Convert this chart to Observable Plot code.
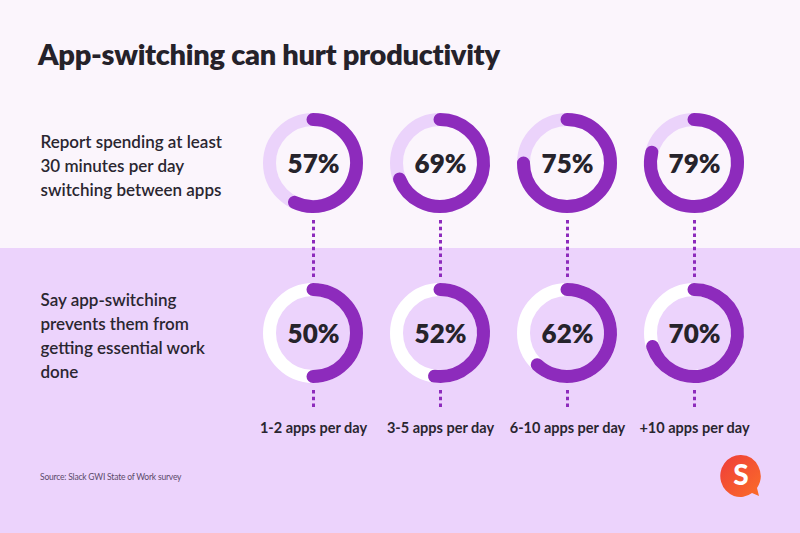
<!DOCTYPE html>
<html><head><meta charset="utf-8">
<script src="https://cdn.jsdelivr.net/npm/d3@7"></script>
<script src="https://cdn.jsdelivr.net/npm/@observablehq/plot@0.6"></script>
<style>
html,body{margin:0;padding:0;}
body{width:800px;height:533px;overflow:hidden;font-family:Lato,"Noto Sans",sans-serif;}
#wrap{position:relative;width:800px;height:533px;background:linear-gradient(to bottom,#fbf5fc 0,#fbf5fc 248px,#ecd3fc 248px,#ecd3fc 100%);}
#chart{position:absolute;left:0;top:0}
#title{position:absolute;left:38px;top:39px;margin:0;font-size:29px;line-height:29px;font-weight:800;color:#25222a;white-space:nowrap;letter-spacing:-0.3px}
#source{position:absolute;left:40px;top:473px;font-size:8.5px;line-height:9px;color:#5b4a6b;white-space:nowrap;letter-spacing:-0.2px}
#logo{position:absolute;left:719px;top:453px}
</style></head>
<body><div id="wrap">
<div id="chart"></div>
<h1 id="title">App-switching can hurt productivity</h1>
<div id="source">Source: Slack GWI State of Work survey</div>
<svg id="logo" width="46" height="48" viewBox="0 0 46 48">
  <defs><linearGradient id="lg" x1="0" y1="0" x2="1" y2="1">
    <stop offset="0" stop-color="#ee3d3a"/><stop offset="1" stop-color="#fb6d28"/></linearGradient></defs>
  <path d="M22,2 A20,21 0 1 0 33,40 L40,43 L38,35 A20,21 0 0 0 22,2 Z" fill="url(#lg)"/>
  <text x="22" y="32" text-anchor="middle" font-family="Lato" font-weight="900" font-size="28" fill="#fff">S</text>
</svg>
</div>
<script>
const categories = ["1-2 apps per day", "3-5 apps per day", "6-10 apps per day", "+10 apps per day"];
const rows = ["top", "bottom"];
const rowLabels = [
  "Report spending at least\n30 minutes per day\nswitching between apps",
  "Say app-switching\nprevents them from\ngetting essential work\ndone"
];
const reportSwitching30min = [57, 69, 75, 79];
const preventsEssentialWork = [50, 52, 62, 70];

const seriesByRow = {top: reportSwitching30min, bottom: preventsEssentialWork};
const trackByRow = {top: "#ebd3fb", bottom: "#ffffff"};
const donuts = rows.flatMap(row => categories.map((cat, j) => ({cat, row, value: seriesByRow[row][j]})));
const labels = rows.map((row, i) => ({row, text: rowLabels[i]}));

const PURPLE = "#8d2bbc";
const R = 43.5, W = 13;

function donutRender(index, scales, values) {
  const g = d3.create("svg:g");
  for (const i of index) {
    const d = donuts[i];
    const cx = values.x[i], cy = values.y[i];
    g.append("circle").attr("cx", cx).attr("cy", cy).attr("r", R)
      .attr("fill", "none").attr("stroke", trackByRow[d.row]).attr("stroke-width", W);
    const a = d.value / 100 * 2 * Math.PI;
    const x1 = cx + R * Math.sin(a), y1 = cy - R * Math.cos(a);
    g.append("path")
      .attr("d", `M${cx},${cy - R}A${R},${R} 0 ${a > Math.PI ? 1 : 0} 1 ${x1},${y1}`)
      .attr("fill", "none").attr("stroke", PURPLE).attr("stroke-width", W).attr("stroke-linecap", "round");
  }
  return g.node();
}

const chart = Plot.plot({
  width: 800,
  height: 533,
  margin: 0,
  style: {background: "transparent", fontFamily: "Lato, 'Noto Sans', sans-serif", overflow: "visible"},
  x: {type: "point", domain: categories, range: [311.5, 695], padding: 0, axis: null},
  y: {type: "point", domain: rows, range: [163, 333], padding: 0, axis: null},
  marks: [
    Plot.ruleX(categories, {x: d => d, y1: () => "top", y2: () => "bottom", insetTop: 57, insetBottom: 56,
      stroke: PURPLE, strokeWidth: 3, strokeDasharray: "3.5,3.2"}),
    Plot.ruleX(categories, {x: d => d, y1: () => "bottom", y2: () => "bottom", insetTop: 57, insetBottom: -77,
      stroke: PURPLE, strokeWidth: 3, strokeDasharray: "3.5,3.2"}),
    Plot.dot(donuts, {x: "cat", y: "row", r: 1, render: donutRender}),
    Plot.text(donuts, {x: "cat", y: "row", text: d => d.value + "%", fontSize: 26, fontWeight: 800, fill: "#26232b", dy: 1}),
    Plot.text(categories, {x: d => d, y: () => "bottom", text: d => d, dy: 95, fontSize: 14.5, fontWeight: 700, fill: "#2a2630"}),
    Plot.text(labels, {y: "row", text: "text", frameAnchor: "left", dx: 40, dy: 1, textAnchor: "start", lineAnchor: "middle",
      lineHeight: 1.42, fontSize: 17, fontWeight: 600, fill: "#2a2630"})
  ]
});
document.getElementById("chart").appendChild(chart);
</script>
</body></html>
